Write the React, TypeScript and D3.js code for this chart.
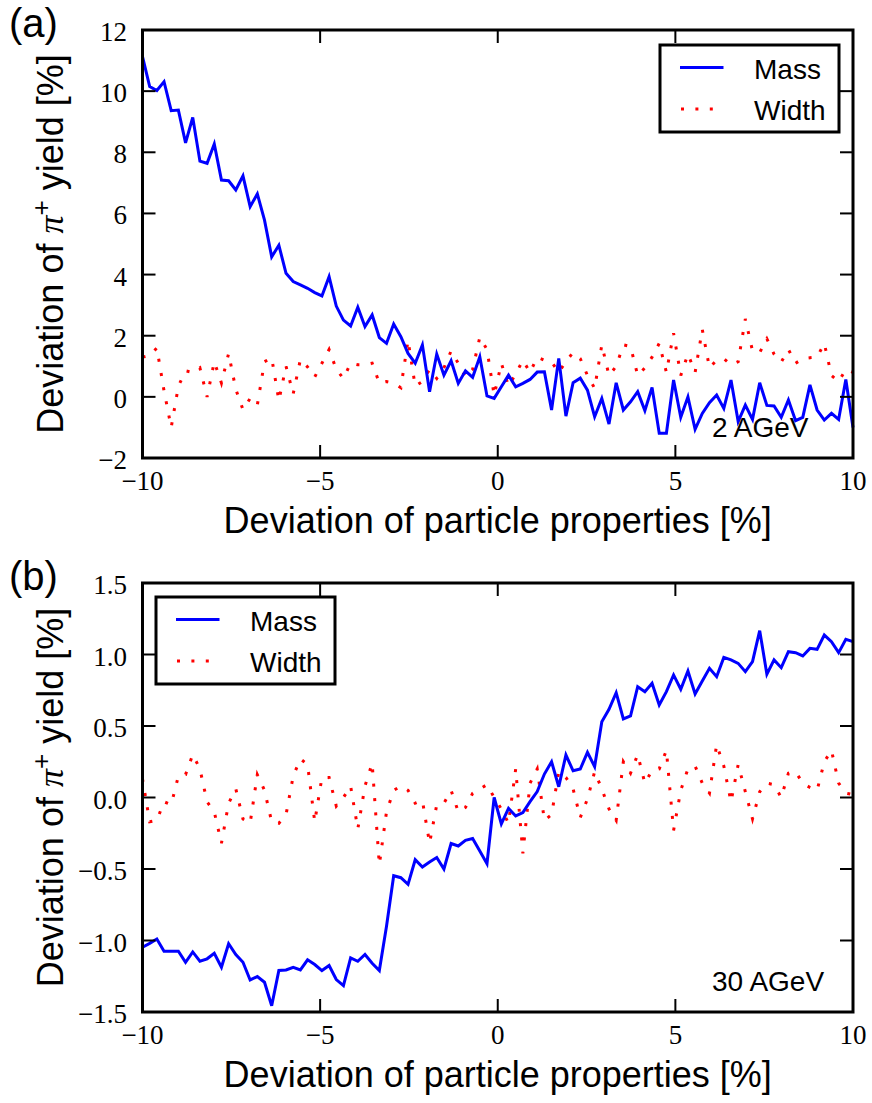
import React from 'react';
import * as d3 from 'd3';

// Sampling of the particle-property deviation (100 points from -10 % to +10 %)
const deviationGrid: number[] = d3.range(100).map((i) => -10 + (20 * i) / 99);

const X_TICKS = [-10, -5, 0, 5, 10];
const A_Y_TICKS = [-2, 0, 2, 4, 6, 8, 10, 12];
const B_Y_TICKS = [-1.5, -1.0, -0.5, 0.0, 0.5, 1.0, 1.5];

// Panel (a): 2 AGeV
const massA = [
  11.13, 10.15, 10.02, 10.31, 9.36, 9.38, 8.31, 9.14, 7.71, 7.64,
  8.27, 7.09, 7.07, 6.77, 7.23, 6.22, 6.64, 5.78, 4.58, 4.96,
  4.04, 3.77, 3.66, 3.55, 3.41, 3.3, 3.93, 2.97, 2.51, 2.32,
  2.93, 2.3, 2.68, 1.94, 1.75, 2.38, 1.97, 1.42, 1.1, 1.7,
  0.17, 1.4, 0.71, 1.18, 0.44, 0.85, 0.64, 1.31, 0.03, -0.05,
  0.33, 0.71, 0.33, 0.44, 0.57, 0.81, 0.82, -0.43, 1.26, -0.63,
  0.46, 0.61, 0.22, -0.65, -0.05, -0.89, 0.46, -0.43, -0.16, 0.17,
  -0.45, 0.31, -1.19, -1.19, 0.55, -0.67, 0.0, -1.06, -0.54, -0.19,
  0.06, -0.38, 0.55, -0.81, -0.27, -0.74, 0.46, -0.28, -0.3, -0.67,
  -0.1, -0.78, -0.67, 0.39, -0.43, -0.76, -0.54, -0.74, 0.57, -1.0,
];
const widthA = [
  1.3, 1.35, 1.6, 0.2, -1.0, 0.35, 0.85, 0.8, 0.95, 0.0,
  1.15, 0.45, 1.42, 0.25, -0.42, -0.05, -0.27, 1.15, 1.28, -0.12,
  1.0, 0.1, 1.22, 0.98, 0.65, 1.1, 1.55, 0.9, 0.6, 1.1,
  1.05, 1.05, 1.1, 0.45, 0.5, 0.45, 0.3, 1.85, 0.35, 0.5,
  0.9, 0.6, 0.95, 1.5, 1.1, 0.65, 0.9, 1.95, 1.55, 0.05,
  1.1, 0.35, 0.75, 1.2, 0.8, 1.3, 1.2, 1.14, 0.8, 1.16,
  1.45, 1.25, 0.7, 0.28, 1.7, 0.7, 1.0, 1.7, 1.65, 0.7,
  0.95, 1.3, 1.75, 0.8, 2.08, 0.7, 1.4, 0.8, 2.2, 0.95,
  1.2, 1.25, 1.05, 1.15, 2.55, 1.5, 1.45, 1.9, 1.4, 1.14,
  1.55, 1.1, 1.25, 1.28, 1.3, 1.75, 0.7, 0.5, 0.9, 0.8,
];

// Panel (b): 30 AGeV
const massB = [
  -1.047, -1.02, -0.99, -1.075, -1.075, -1.075, -1.152, -1.08, -1.145, -1.128,
  -1.089, -1.187, -1.023, -1.098, -1.152, -1.276, -1.252, -1.292, -1.456, -1.21,
  -1.206, -1.187, -1.206, -1.135, -1.168, -1.21, -1.175, -1.273, -1.315, -1.121,
  -1.145, -1.098, -1.159, -1.21, -0.9, -0.547, -0.561, -0.607, -0.435, -0.486,
  -0.451, -0.42, -0.5, -0.322, -0.339, -0.299, -0.287, -0.374, -0.463, 0.0,
  -0.185, -0.076, -0.129, -0.106, -0.029, 0.041, 0.164, 0.25, 0.075, 0.297,
  0.187, 0.199, 0.316, 0.216, 0.53, 0.617, 0.733, 0.549, 0.57, 0.775,
  0.74, 0.799, 0.647, 0.74, 0.857, 0.757, 0.885, 0.724, 0.815, 0.903,
  0.845, 0.98, 0.962, 0.938, 0.88, 0.95, 1.167, 0.862, 0.962, 0.908,
  1.02, 1.013, 0.99, 1.043, 1.036, 1.136, 1.09, 1.013, 1.106, 1.09,
];
const widthB = [
  0.13, -0.17, -0.16, -0.03, -0.05, 0.15, 0.16, 0.3, 0.2, -0.03,
  -0.1, -0.32, -0.04, 0.06, -0.15, -0.18, 0.16, 0.05, -0.17, -0.18,
  -0.12, 0.15, 0.27, 0.23, -0.17, 0.14, 0.14, -0.06, 0.0, 0.08,
  -0.22, 0.08, 0.24, -0.47, -0.1, 0.05, 0.08, 0.05, -0.04, -0.02,
  -0.32, -0.05, -0.04, 0.05, -0.1, -0.07, 0.03, 0.06, 0.09, 0.0,
  -0.08, -0.18, 0.2, -0.39, 0.1, 0.2, -0.16, -0.12, 0.18, 0.14,
  0.06, -0.14, -0.01, 0.18, 0.06, -0.08, -0.16, 0.25, 0.17, 0.3,
  0.1, 0.19, 0.2, 0.33, -0.23, 0.05, 0.2, 0.22, 0.1, 0.03,
  0.37, 0.22, -0.03, 0.23, 0.04, -0.15, 0.04, 0.1, 0.09, 0.0,
  0.17, 0.18, 0.1, 0.07, 0.05, 0.25, 0.33, 0.1, 0.03, 0.02,
];

const W = 872;
const H = 1103;
const LEFT = 142.5;
const RIGHT = 853;
const SANS = '"Liberation Sans", Arial, Helvetica, sans-serif';
const SERIF = '"Liberation Serif", "Times New Roman", serif';
const BLUE = '#0000ff';
const RED = '#ff0000';
const DOTS = '3 11.4';

const minus = (s: string) => s.replace('-', '\u2212');

type PanelProps = {
  tag: string;
  top: number;
  bottom: number;
  domain: [number, number];
  yTicks: number[];
  fmt: (v: number) => string;
  mass: number[];
  width: number[];
  legendX: number;
  legendY: number;
  energy: string;
};

function Panel(p: PanelProps) {
  const x = d3.scaleLinear().domain([-10, 10]).range([LEFT, RIGHT]);
  const y = d3.scaleLinear().domain(p.domain).range([p.bottom, p.top]);
  const line = d3
    .line<number>()
    .x((_, i) => x(deviationGrid[i]))
    .y((d) => y(d));
  const clipId = `plot-clip-${p.tag}`;
  const tickLen = 13;
  const lx = p.legendX;
  const ly = p.legendY;

  return (
    <g>
      <defs>
        <clipPath id={clipId}>
          <rect x={LEFT} y={p.top} width={RIGHT - LEFT} height={p.bottom - p.top} />
        </clipPath>
      </defs>

      <g clipPath={`url(#${clipId})`}>
        <path d={line(p.width) || ''} fill="none" stroke={RED} strokeWidth={3} strokeDasharray={DOTS} />
        <path d={line(p.mass) || ''} fill="none" stroke={BLUE} strokeWidth={3} strokeLinejoin="miter" />
      </g>

      {/* ticks on all four sides, pointing inward */}
      <g stroke="#000" strokeWidth={2}>
        {X_TICKS.map((t) => (
          <g key={`xt${t}`}>
            <line x1={x(t)} x2={x(t)} y1={p.bottom} y2={p.bottom - tickLen} />
            <line x1={x(t)} x2={x(t)} y1={p.top} y2={p.top + tickLen} />
          </g>
        ))}
        {p.yTicks.map((t) => (
          <g key={`yt${t}`}>
            <line x1={LEFT} x2={LEFT + tickLen} y1={y(t)} y2={y(t)} />
            <line x1={RIGHT} x2={RIGHT - tickLen} y1={y(t)} y2={y(t)} />
          </g>
        ))}
      </g>

      <rect
        x={LEFT}
        y={p.top}
        width={RIGHT - LEFT}
        height={p.bottom - p.top}
        fill="none"
        stroke="#000"
        strokeWidth={3}
      />

      {/* tick labels */}
      <g fontFamily={SERIF} fontSize={27} fill="#000">
        {X_TICKS.map((t) => (
          <text key={`xl${t}`} x={x(t)} y={p.bottom + 32} textAnchor="middle">
            {minus(String(t))}
          </text>
        ))}
        {p.yTicks.map((t) => (
          <text key={`yl${t}`} x={127} y={y(t) + 11} textAnchor="end">
            {p.fmt(t)}
          </text>
        ))}
      </g>

      {/* axis titles */}
      <text
        x={(LEFT + RIGHT) / 2}
        y={p.bottom + 75}
        textAnchor="middle"
        fontFamily={SANS}
        fontSize={36}
        fill="#000"
      >
        Deviation of particle properties [%]
      </text>
      <text
        transform={`translate(63, ${(p.top + p.bottom) / 2}) rotate(-90)`}
        textAnchor="middle"
        fontFamily={SANS}
        fontSize={36}
        fill="#000"
      >
        Deviation of{' '}
        <tspan fontFamily={SERIF} fontStyle="italic">
          π
        </tspan>
        <tspan dy={-13} fontSize={26}>
          +
        </tspan>
        <tspan dy={13}> yield [%]</tspan>
      </text>

      {/* panel tag */}
      <text x={9} y={p.top + 7} fontFamily={SANS} fontSize={40} fill="#000">
        {p.tag}
      </text>

      {/* beam energy */}
      <text x={712} y={p.bottom - 21} fontFamily={SANS} fontSize={28} fill="#000">
        {p.energy}
      </text>

      {/* legend */}
      <g>
        <rect x={lx} y={ly} width={179} height={87} fill="#fff" stroke="#000" strokeWidth={3} />
        <line x1={lx + 20} x2={lx + 63.5} y1={ly + 22.5} y2={ly + 22.5} stroke={BLUE} strokeWidth={3} />
        <text x={lx + 94} y={ly + 33.5} fontFamily={SANS} fontSize={28} fill="#000">
          Mass
        </text>
        <line
          x1={lx + 21}
          x2={lx + 63.5}
          y1={ly + 64}
          y2={ly + 64}
          stroke={RED}
          strokeWidth={3}
          strokeDasharray={DOTS}
        />
        <text x={lx + 94} y={ly + 75} fontFamily={SANS} fontSize={28} fill="#000">
          Width
        </text>
      </g>
    </g>
  );
}

export default function App() {
  return (
    <div style={{ position: 'absolute', left: 0, top: 0, width: W, height: H, background: '#fff' }}>
      <svg width={W} height={H} viewBox={`0 0 ${W} ${H}`} style={{ display: 'block' }}>
        <rect x={0} y={0} width={W} height={H} fill="#fff" />
        <Panel
          tag="(a)"
          top={30}
          bottom={458}
          domain={[-2, 12]}
          yTicks={A_Y_TICKS}
          fmt={(v) => minus(String(v))}
          mass={massA}
          width={widthA}
          legendX={660}
          legendY={45}
          energy="2 AGeV"
        />
        <Panel
          tag="(b)"
          top={583}
          bottom={1012}
          domain={[-1.5, 1.5]}
          yTicks={B_Y_TICKS}
          fmt={(v) => minus(v.toFixed(1))}
          mass={massB}
          width={widthB}
          legendX={156}
          legendY={597}
          energy="30 AGeV"
        />
      </svg>
    </div>
  );
}
